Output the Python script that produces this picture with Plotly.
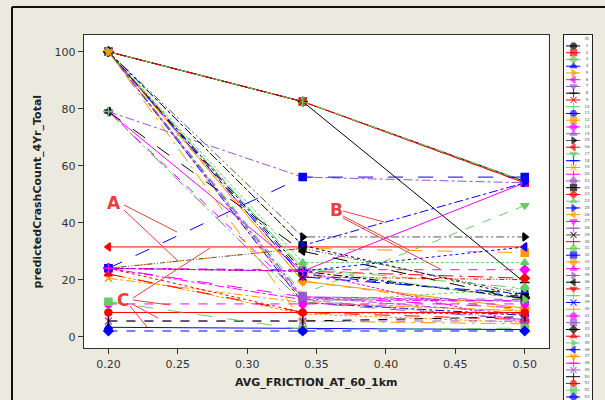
import plotly.graph_objects as go

# ---------------- data ----------------
friction = [0.20, 0.34, 0.50]
series_ids = list(range(1, 54))
crash_counts = {
    1: [100, 82.5, 54.5], 2: [100, 82.5, 54], 3: [100, 82.5, 54.5], 4: [3.3, 3, 2.5],
    5: [100, 12, 9], 6: [79, 23, 54], 7: [79, 56, 54], 8: [100, 82.5, 19],
    9: [100, 82.5, 54], 10: [100, 82.5, 54.5], 11: [100, 12, 7.5], 12: [24, 31, 29.5],
    13: [24, 23.5, 23.5], 14: [100, 13.5, 12.5], 15: [100, 35, 35], 16: [31.5, 31.5, 31.5],
    17: [100, 15, 46], 18: [100, 22, 14], 19: [20.5, 12, 9], 20: [24, 14, 10],
    21: [100, 13, 6], 22: [100, 32, 14], 23: [24, 23, 20.5], 24: [100, 26, 26],
    25: [100, 32, 54], 26: [100, 19.5, 9], 27: [24, 13, 12.5], 28: [79, 12, 6],
    29: [24, 31, 15], 30: [24, 8.5, 8], 31: [100, 24, 17], 32: [24, 56, 56],
    33: [100, 19.5, 10], 34: [79, 14, 12.5], 35: [100, 14, 8], 36: [79, 30, 13],
    37: [100, 21, 20], 38: [79, 12, 17], 39: [100, 21, 15], 40: [22, 8, 5],
    41: [11.5, 11.5, 11.5], 42: [100, 14, 13], 43: [100, 23, 13.5], 44: [22, 8.5, 6],
    45: [100, 24, 13], 46: [24, 23, 31.5], 47: [100, 5.5, 4.5], 48: [24, 23, 5],
    49: [5.5, 5.5, 5.5], 50: [5.5, 5.5, 7], 51: [8.5, 8.5, 8.5], 52: [12.3, 2.5, 3],
    53: [2, 2, 2],
}
x_ticks = [0.20, 0.25, 0.30, 0.35, 0.40, 0.45, 0.50]
y_ticks = [0, 20, 40, 60, 80, 100]

# ---------------- styles ----------------
palette = ["#000000", "#FF0000", "#66CC66", "#0000FF", "#FF9900", "#FF00FF", "#9955CC"]
symbols = ["circle", "square", "diamond", "triangle-up", "triangle-right", "triangle-left",
           "triangle-down", "cross-thin-open", "x-thin-open", "line-ns-open"]
dashes = ["solid", "dash", "dashdot", "longdash", "5px,2px,1px,2px,1px,2px", "dot",
          "longdashdot", "3px,2px"]
dash_override = {1: "solid", 8: "solid", 15: "8px,3px,2px,3px,2px,3px", 16: "solid",
                 32: "longdash", 51: "solid", 53: "dash", 6: "solid", 7: "dashdot",
                 17: "dash", 25: "dashdot", 49: "dash", 4: "solid", 41: "dash", 13: "dash"}

W, H = 605, 400
def px_x(p): return p / W
def px_y(p): return 1 - p / H

fig = go.Figure()
for sid in series_ids:
    c = palette[(sid - 1) % 7]
    lc = "#555555" if sid in (15, 29) else c
    sym = symbols[(sid - 1) % 10]
    d = dash_override.get(sid, dashes[(sid - 1) % len(dashes)])
    mk = dict(symbol=sym, size=7, color=c, line=dict(color=c, width=1.5))
    fig.add_trace(go.Scatter(x=friction, y=crash_counts[sid], mode="lines+markers",
                             line=dict(color=lc, width=1, dash=d), marker=mk,
                             showlegend=False, xaxis="x", yaxis="y"))
    # custom legend entry
    fig.add_trace(go.Scatter(x=[0.07, 0.34, 0.58], y=[sid, sid, sid], mode="lines+markers",
                             line=dict(color=lc, width=1, dash="solid"),
                             marker=dict(symbol=sym, size=[0, 6, 0], color=c,
                                         line=dict(color=c, width=1.2)),
                             showlegend=False, xaxis="x2", yaxis="y2", hoverinfo="skip"))

fig.add_trace(go.Scatter(x=[0.82] * len(series_ids), y=series_ids, mode="text",
                         text=[str(s) for s in series_ids], textfont=dict(size=4, color="#555555"),
                         showlegend=False, xaxis="x2", yaxis="y2", hoverinfo="skip"))
fig.add_trace(go.Scatter(x=[0.82], y=[-0.1], mode="text", text=["ID"],
                         textfont=dict(size=4, color="#555555"),
                         showlegend=False, xaxis="x2", yaxis="y2", hoverinfo="skip"))

# ---------------- layout ----------------
x0p, x1p = 83.7, 548.6
y0p, y1p = 35, 348.3
font = "DejaVu Sans"
fig.update_layout(
    width=W, height=H,
    margin=dict(l=0, r=0, t=0, b=0),
    paper_bgcolor="#ECE9DF",
    plot_bgcolor="#FFFFFF",
    showlegend=False,
    font=dict(family=font, size=11, color="#333333"),
    xaxis=dict(domain=[px_x(x0p), px_x(x1p)], range=[0.1822, 0.5172],
               tickvals=x_ticks, ticktext=["%.2f" % v for v in x_ticks],
               ticks="outside", ticklen=5, tickcolor="#333333",
               showline=True, linecolor="#333333", linewidth=1, mirror=True,
               showgrid=False, zeroline=False,
               title=dict(text="<b>AVG_FRICTION_AT_60_1km</b>", font=dict(size=11, color="#222222"),
                          standoff=8),
               tickfont=dict(size=11, color="#333333")),
    yaxis=dict(domain=[px_y(y1p), px_y(y0p)], range=[-4.07, 105.86],
               tickvals=y_ticks, ticks="outside", ticklen=5, tickcolor="#333333",
               showline=True, linecolor="#333333", linewidth=1, mirror=True,
               showgrid=False, zeroline=False,
               title=dict(text="<b>predictedCrashCount_4Yr_Total</b>",
                          font=dict(size=11, color="#222222"), standoff=10),
               tickfont=dict(size=11, color="#333333")),
    xaxis2=dict(domain=[px_x(564), px_x(592)], range=[0, 1], anchor="y2",
                showline=True, linecolor="#222222", linewidth=1, mirror=True,
                showticklabels=False, ticks="", showgrid=False, zeroline=False),
    yaxis2=dict(domain=[0, px_y(35)], range=[53.45, -0.62], anchor="x2",
                showline=True, linecolor="#222222", linewidth=1, mirror=True,
                showticklabels=False, ticks="", showgrid=False, zeroline=False),
)

# outer window frame
fig.add_shape(type="line", xref="paper", yref="paper", x0=px_x(12), x1=px_x(12),
              y0=px_y(7), y1=-0.1, line=dict(color="#111111", width=2))
fig.add_shape(type="line", xref="paper", yref="paper", x0=px_x(12), x1=1.1,
              y0=px_y(7), y1=px_y(7), line=dict(color="#111111", width=2))

# red pointer annotations (A, B, C)
def dx(p): return 0.20 + (p - 108.4) / 1387.7
def dy(p): return (336.7 - p) / 2.85
red = "#E8413C"
for txt, (px, py) in {"A": (114, 203), "B": (336, 210), "C": (123, 300)}.items():
    fig.add_annotation(x=dx(px), y=dy(py), text="<b>%s</b>" % txt, showarrow=False,
                       font=dict(size=17, color=red, family=font), xref="x", yref="y")
pointers = [
    ((124, 205), (177, 232)), ((124, 210), (178, 261)),
    ((343, 211), (384, 222)), ((343, 216), (409, 250)), ((343, 218), (440, 269)),
    ((133, 298), (210, 248)), ((133, 300), (170, 305)), ((132, 304), (158, 318)),
    ((130, 306), (147, 327)),
]
for (a, b) in pointers:
    fig.add_shape(type="line", xref="x", yref="y", x0=dx(a[0]), y0=dy(a[1]),
                  x1=dx(b[0]), y1=dy(b[1]), line=dict(color=red, width=1))

fig.write_html("out.html", config={"displayModeBar": False},
               post_script="document.body.style.margin='0px';document.body.style.overflow='hidden';")
